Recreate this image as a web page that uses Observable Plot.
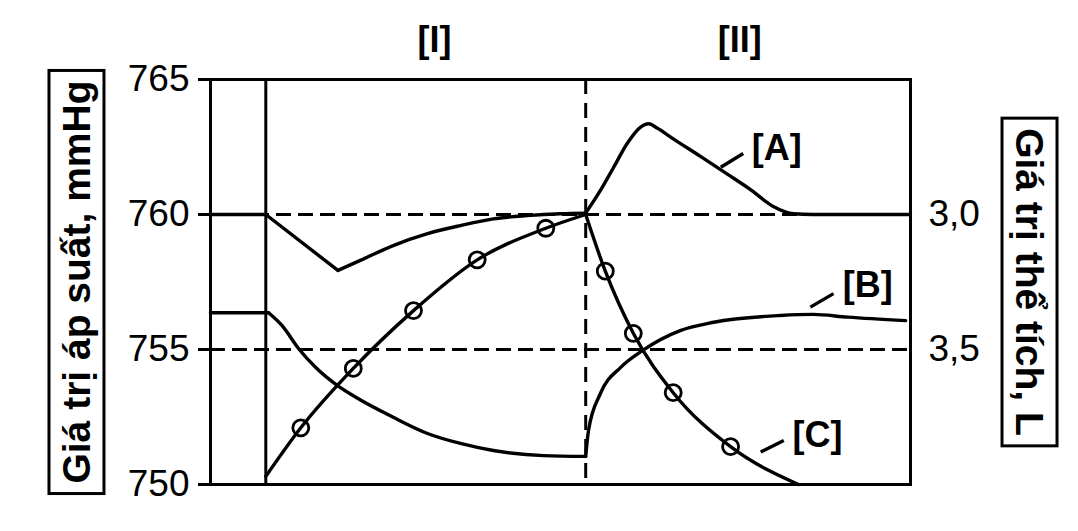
<!DOCTYPE html>
<html>
<head>
<meta charset="utf-8">
<script src="https://cdn.jsdelivr.net/npm/d3@7"></script>
<script src="https://cdn.jsdelivr.net/npm/@observablehq/plot@0.6"></script>
<style>
  html, body { margin: 0; padding: 0; background: #fff; }
  #chart { width: 1078px; height: 531px; }
</style>
</head>
<body>
<div id="chart"></div>
<script>
// ---- Data (time in arbitrary units 0..100) ----
const tStart = 7.9;      // start of phase [I]
const tSwitch = 53.6;    // boundary between [I] and [II]

const leftTicks = [750, 755, 760, 765];   // mmHg
const gridLevels = [760, 755];            // dashed reference levels (mmHg)
const volTicks = [3.0, 3.5];              // L (right axis)

const phaseNames = ["[I]", "[II]"];
const phaseT = [32, 75.6];

// Curve [A] – pressure, mmHg : [t, value, segment]
const curveA = [
  [0, 760.0, "a1"], [7.9, 760.0, "a1"], [18.2, 757.93, "a1"],
  [18.2, 757.93, "a2"], [21.4, 758.30, "a2"], [26.1, 758.85, "a2"], [31.0, 759.29, "a2"],
  [35.7, 759.59, "a2"], [40.4, 759.84, "a2"], [45.2, 759.96, "a2"], [50.0, 760.03, "a2"],
  [53.6, 760.05, "a2"],
  [53.6, 760.05, "a3"], [55.7, 760.89, "a3"], [57.6, 761.75, "a3"], [59.5, 762.62, "a3"],
  [61.4, 763.23, "a3"], [62.6, 763.36, "a3"], [63.8, 763.20, "a3"], [66.0, 762.82, "a3"],
  [70.0, 762.15, "a3"], [74.0, 761.47, "a3"], [77.0, 760.95, "a3"], [80.4, 760.30, "a3"],
  [83.3, 760.03, "a3"], [86.0, 760.0, "a3"], [100, 760.0, "a3"]
];

// Curve [B] – pressure, mmHg
const curveB = [
  [0, 756.36, "b0"], [8.3, 756.36, "b0"],
  [8.3, 756.36, "b1"], [10.2, 755.89, "b1"], [12.6, 755.03, "b1"], [15.0, 754.34, "b1"],
  [18.1, 753.67, "b1"], [20.7, 753.24, "b1"], [26.1, 752.49, "b1"], [31.0, 751.89, "b1"],
  [35.7, 751.52, "b1"], [40.4, 751.26, "b1"], [47.6, 751.07, "b1"], [53.6, 751.04, "b1"],
  [53.6, 751.04, "b2"], [54.0, 752.0, "b2"], [55.7, 753.37, "b2"], [58.6, 754.34, "b2"],
  [61.7, 754.96, "b2"], [67.1, 755.70, "b2"], [71.9, 756.01, "b2"], [81.4, 756.26, "b2"],
  [86.1, 756.30, "b2"], [91.0, 756.20, "b2"], [99.3, 756.07, "b2"]
];

// Curve [C] – volume, L (right axis)
const curveC = [
  [7.9, 3.97, "c1"], [12.9, 3.79, "c1"], [20.4, 3.57, "c1"], [29.0, 3.356, "c1"],
  [38.1, 3.168, "c1"], [47.9, 3.051, "c1"], [53.6, 3.0, "c1"],
  [53.6, 3.0, "c2"], [56.4, 3.21, "c2"], [60.4, 3.44, "c2"], [66.1, 3.66, "c2"],
  [74.3, 3.86, "c2"], [84.0, 4.0, "c2"]
];
const markerT = [12.9, 20.4, 29.0, 38.1, 47.9, 56.4, 60.4, 66.1, 74.3];
const markerV = [3.79, 3.57, 3.356, 3.168, 3.051, 3.21, 3.44, 3.66, 3.86];

// Curve labels and leader lines
const curveNames = ["[A]", "[B]", "[C]"];
const labelT = [80.9, 93.9, 86.7];
const labelP = [762.44, 757.37, 751.81];
const leaderT1 = [72.9, 85.7, 78.6];
const leaderP1 = [761.75, 756.57, 751.20];
const leaderT2 = [76.1, 89.0, 81.9];
const leaderP2 = [762.26, 757.07, 751.63];

const leftTitle = "Giá trị áp suất, mmHg";
const rightTitle = "Giá trị thể tích, L";

// volume (L) <-> pressure-axis position: 3,0 L at 760, 3,5 L at 755
const vToP = v => 760 - (v - 3.0) * 10;
const pToV = p => 3.0 + (760 - p) / 10;

const toRows = arr => arr.map(([t, v, seg]) => ({t, v, seg}));
const rowsA = toRows(curveA);
const rowsB = toRows(curveB);
const rowsC = toRows(curveC).map(d => ({...d, p: vToP(d.v)}));
const markers = markerT.map((t, i) => ({t, p: vToP(markerV[i])}));

const lineStyle = {stroke: "black", strokeWidth: 3.4, strokeLinejoin: "round", strokeLinecap: "round"};

const plot = Plot.plot({
  width: 1078,
  height: 531,
  marginLeft: 210,
  marginRight: 168,
  marginTop: 79,
  marginBottom: 47,
  style: {
    fontFamily: "'Liberation Sans', Arial, Helvetica, sans-serif",
    fontSize: "36px",
    color: "black",
    background: "white",
    overflow: "visible"
  },
  x: {domain: [0, 100], axis: null},
  y: {domain: [750, 765], axis: null},
  marks: [
    Plot.ruleY(gridLevels, {stroke: "black", strokeWidth: 3, strokeDasharray: "15,7"}),
    Plot.ruleX([tSwitch], {stroke: "black", strokeWidth: 3, strokeDasharray: "15,9"}),
    Plot.ruleX([tStart], {stroke: "black", strokeWidth: 3}),
    Plot.frame({stroke: "black", strokeWidth: 3}),
    Plot.axisY({
      anchor: "left", ticks: leftTicks, tickSize: 12, tickPadding: 9,
      strokeWidth: 3, label: null, fontSize: 37, tickFormat: d => String(d)
    }),
    Plot.axisY({
      anchor: "right", ticks: volTicks.map(vToP), tickSize: 0, tickPadding: 18,
      label: null, fontSize: 37,
      tickFormat: p => pToV(p).toFixed(1).replace(".", ",")
    }),
    // curves
    Plot.line(rowsA.filter(d => d.seg === "a1"), {x: "t", y: "v", curve: "linear", ...lineStyle}),
    Plot.line(rowsA.filter(d => d.seg !== "a1"), {x: "t", y: "v", z: "seg", curve: "monotone-x", ...lineStyle}),
    Plot.line(rowsB.filter(d => d.seg === "b0"), {x: "t", y: "v", curve: "linear", ...lineStyle}),
    Plot.line(rowsB.filter(d => d.seg !== "b0"), {x: "t", y: "v", z: "seg", curve: "monotone-x", ...lineStyle}),
    Plot.line(rowsC, {x: "t", y: "p", z: "seg", curve: "monotone-x", ...lineStyle}),
    Plot.dot(markers, {x: "t", y: "p", r: 8, stroke: "black", strokeWidth: 2.8, fill: "none"}),
    // leaders + labels
    Plot.link(curveNames, {
      x1: (d, i) => leaderT1[i], y1: (d, i) => leaderP1[i],
      x2: (d, i) => leaderT2[i], y2: (d, i) => leaderP2[i],
      stroke: "black", strokeWidth: 3.4
    }),
    Plot.text(curveNames, {
      x: (d, i) => labelT[i], y: (d, i) => labelP[i], text: d => d,
      fontSize: 36, fontWeight: "bold", textAnchor: "middle", lineAnchor: "middle", fill: "black"
    }),
    // phase labels
    Plot.text(phaseNames, {
      x: (d, i) => phaseT[i], text: d => d, frameAnchor: "top", dy: -39,
      fontSize: 36, fontWeight: "bold", lineAnchor: "middle", fill: "black"
    }),
    // axis titles
    Plot.text([leftTitle], {
      text: d => d, frameAnchor: "left", dx: -133, rotate: -90,
      fontSize: 39, fontWeight: "bold", textAnchor: "middle", lineAnchor: "middle", fill: "black"
    }),
    Plot.text([rightTitle], {
      text: d => d, frameAnchor: "right", dx: 118, rotate: 90,
      fontSize: 39, fontWeight: "bold", textAnchor: "middle", lineAnchor: "middle", fill: "black"
    })
  ]
});

document.getElementById("chart").append(plot);

// Boxes around the axis titles
const titles = [leftTitle, rightTitle];
d3.select(plot).selectAll("text")
  .filter(function () { return titles.includes(this.textContent); })
  .each(function () {
    const node = this;
    const bb = node.getBBox();
    const padX = 10, padY = 6;
    const rect = document.createElementNS("http://www.w3.org/2000/svg", "rect");
    rect.setAttribute("x", bb.x - padX);
    rect.setAttribute("y", bb.y - padY);
    rect.setAttribute("width", bb.width + 2 * padX);
    rect.setAttribute("height", bb.height + 2 * padY);
    const tr = node.getAttribute("transform");
    if (tr) rect.setAttribute("transform", tr);
    rect.setAttribute("fill", "none");
    rect.setAttribute("stroke", "black");
    rect.setAttribute("stroke-width", 3);
    node.parentNode.insertBefore(rect, node);
  });
</script>
</body>
</html>
